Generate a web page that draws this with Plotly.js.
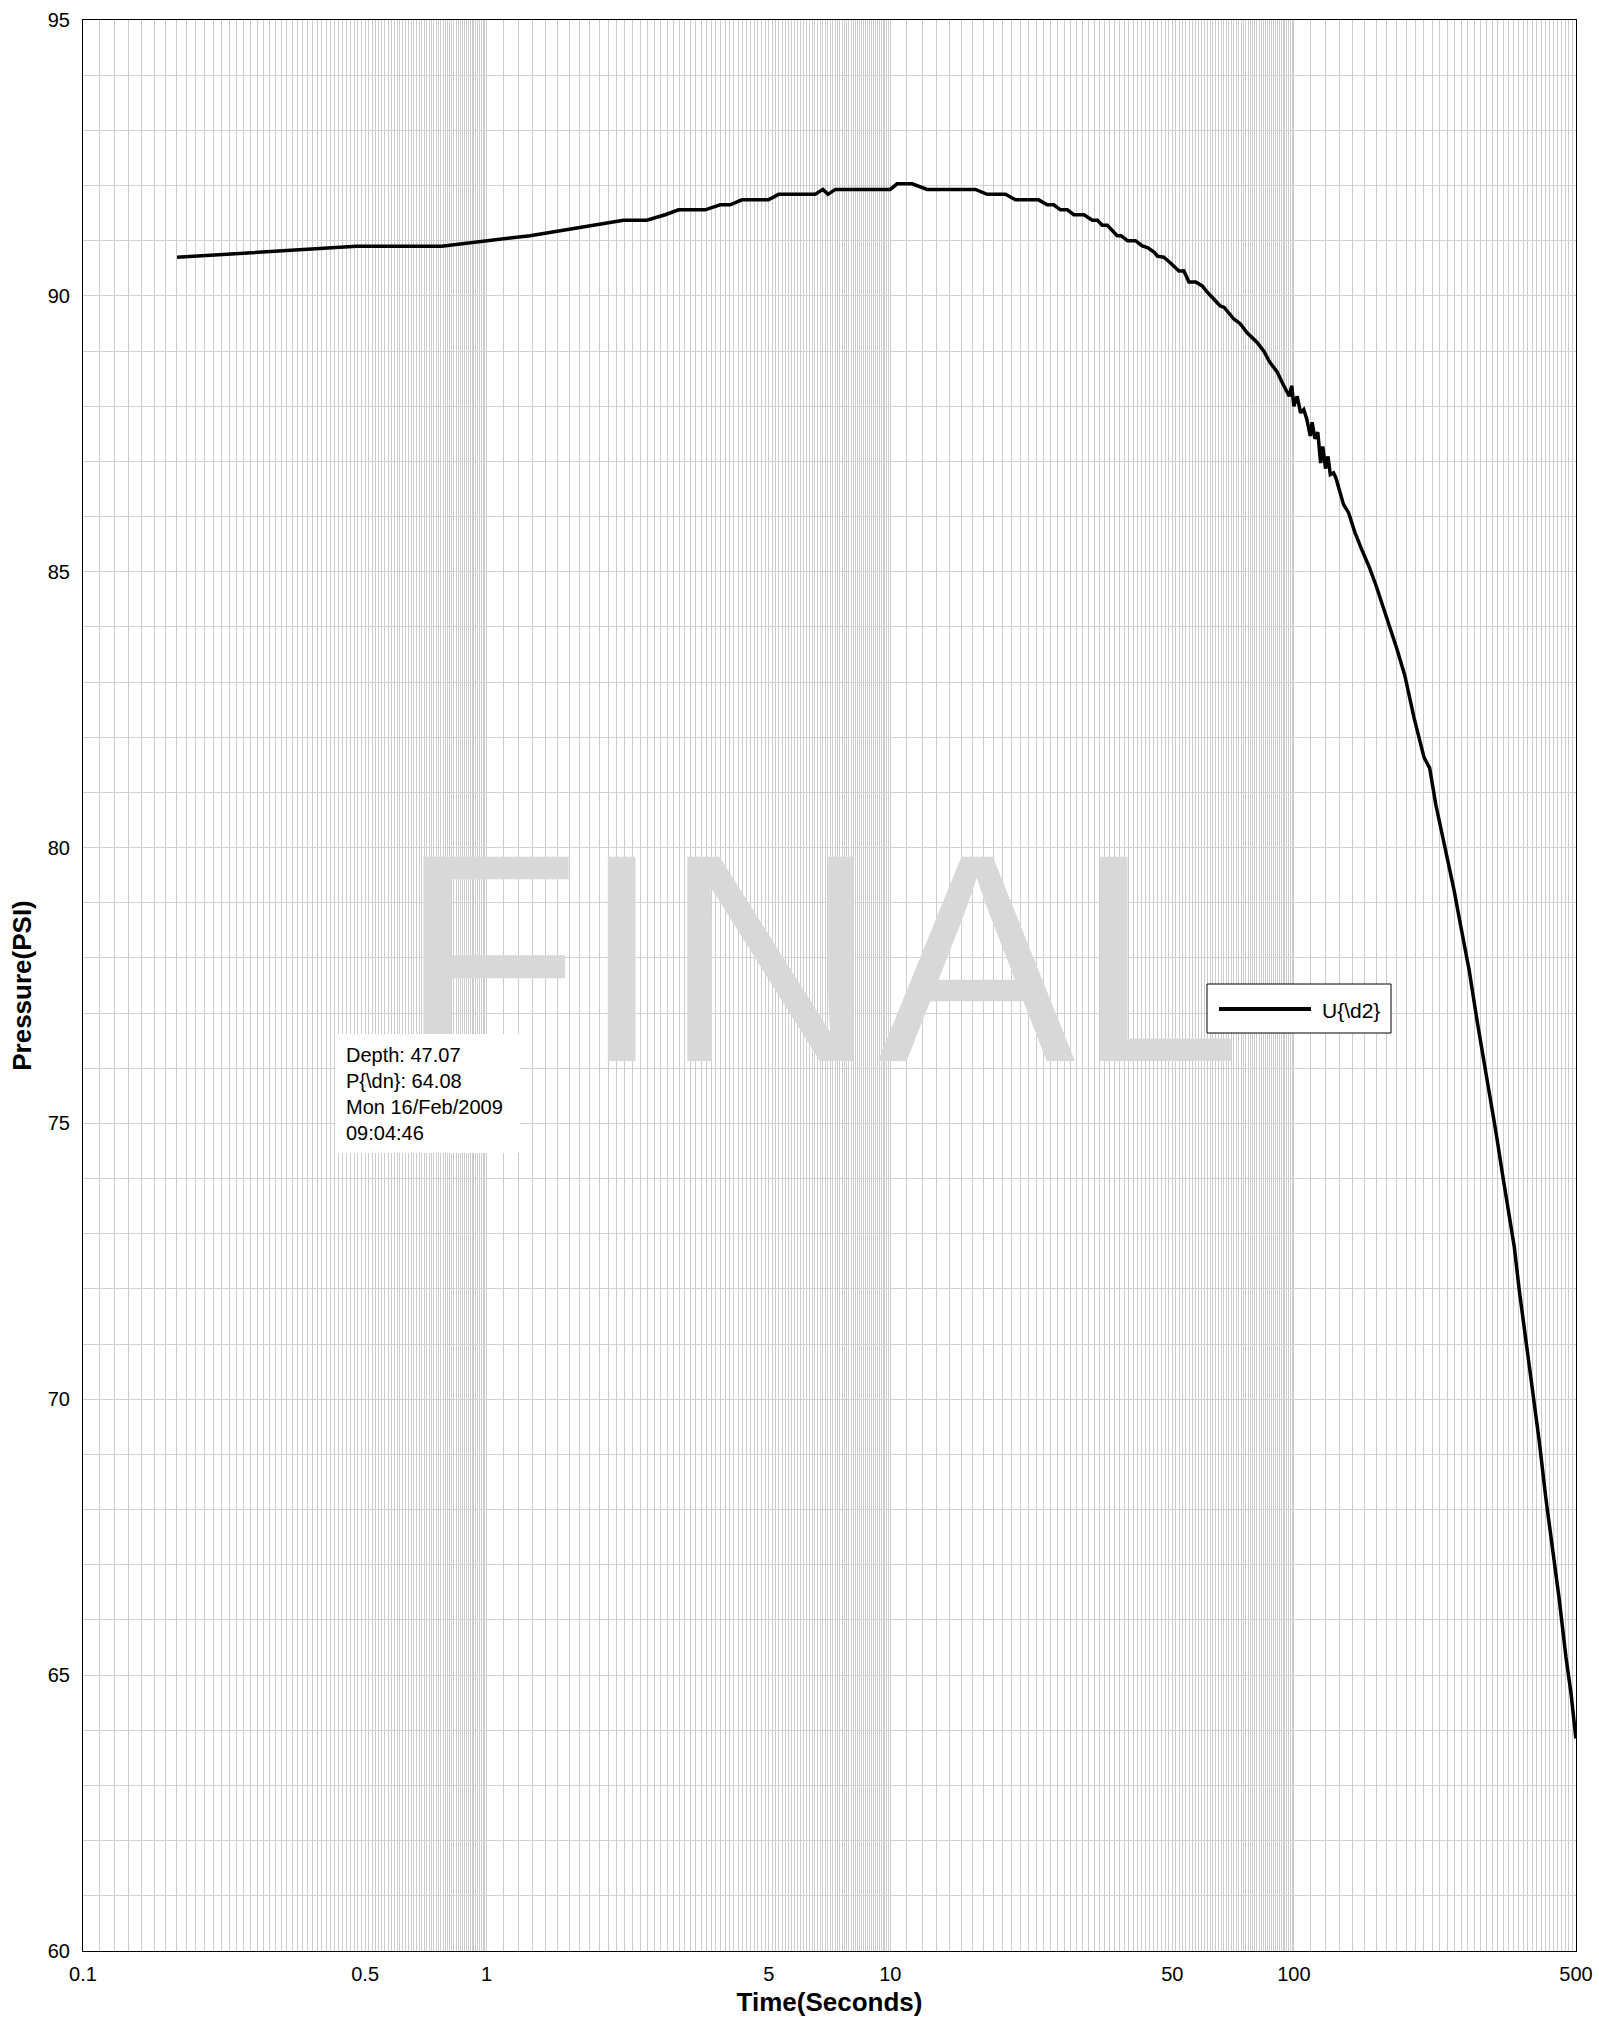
<!DOCTYPE html>
<html>
<head>
<meta charset="utf-8">
<script src="https://cdn.plot.ly/plotly-3.0.1.min.js"></script>
<style>
html,body{margin:0;padding:0;background:#ffffff;}
#chart{width:1599px;height:2022px;}
.js-plotly-plot .plotly path.xgrid, .js-plotly-plot .plotly path.ygrid { shape-rendering: crispEdges !important; }
</style>
</head>
<body>
<div id="chart"></div>
<script>
// ---- data ----
const timeSec = [
  0.171, 0.476, 0.774, 1.281, 2.183, 2.494, 2.77, 2.99, 3.48, 3.79,
  4.01, 4.29, 4.99, 5.29, 6.52, 6.81, 7.01, 7.31, 10.0, 10.4,
  11.33, 12.34, 16.26, 17.38, 19.3, 20.43, 23.3, 24.48, 25.4, 26.4,
  27.45, 28.5, 30.2, 31.66, 32.6, 33.5, 34.5, 36.5, 37.3, 38.7,
  40.5, 42.0, 43.5, 45.1, 45.9, 47.6, 49.4, 51.9, 53.4, 54.95,
  57.1, 59.3, 61.0, 63.4, 65.6, 67.2, 71.0, 73.5, 76.6, 81.2,
  84.4, 87.1, 90.9, 93.8, 96.6, 97.4, 98.8, 100.0, 101.9, 103.9,
  105.8, 107.7, 109.8, 111.0, 112.7, 114.6, 116.5, 117.9, 119.8, 121.5,
  123.1, 125.4, 127.1, 132.7, 136.6, 141.7, 147.3, 153.4, 159.8, 166.3,
  173.3, 180.0, 188.3, 198.5, 210.2, 217.0, 224.7, 237.9, 249.5, 259.2,
  271.8, 285.1, 301.8, 316.6, 328.9, 341.6, 351.5, 361.7, 375.7, 390.3,
  405.3, 421.1, 437.5, 454.3, 472.1, 485.8, 499.7
];
const pressurePsi = [
  90.70, 90.90, 90.90, 91.09, 91.37, 91.37, 91.47, 91.56, 91.56, 91.65,
  91.65, 91.74, 91.74, 91.84, 91.84, 91.93, 91.84, 91.93, 91.93, 92.03,
  92.03, 91.93, 91.93, 91.84, 91.84, 91.74, 91.74, 91.65, 91.65, 91.56,
  91.56, 91.47, 91.47, 91.37, 91.37, 91.28, 91.28, 91.09, 91.09, 91.00,
  91.00, 90.91, 90.87, 90.79, 90.72, 90.70, 90.60, 90.45, 90.45, 90.25,
  90.25, 90.18, 90.07, 89.93, 89.82, 89.79, 89.58, 89.50, 89.33, 89.15,
  88.99, 88.80, 88.62, 88.41, 88.24, 88.18, 88.37, 88.00, 88.18, 87.88,
  87.94, 87.76, 87.46, 87.71, 87.41, 87.53, 86.97, 87.27, 86.87, 87.09,
  86.76, 86.79, 86.70, 86.22, 86.07, 85.71, 85.40, 85.10, 84.75, 84.38,
  83.99, 83.60, 83.12, 82.35, 81.63, 81.44, 80.78, 79.94, 79.22, 78.57,
  77.78, 76.81, 75.76, 74.85, 74.07, 73.29, 72.77, 71.98, 71.07, 70.16,
  69.25, 68.20, 67.29, 66.38, 65.33, 64.68, 63.85
];
const seriesName = 'U{\\d2}';
const xLabelValues = [0.1, 0.5, 1, 5, 10, 50, 100, 500];
const yLabelValues = [60, 65, 70, 75, 80, 85, 90, 95];
const infoLines = ['Depth: 47.07', 'P{\\dn}: 64.08', 'Mon 16/Feb/2009', '09:04:46'];
const watermarkText = 'FINAL';
const xTitle = 'Time(Seconds)';
const yTitle = 'Pressure(PSI)';

// ---- grid ticks (axis furniture) ----
const FONT = 'Liberation Sans, Arial, Helvetica, sans-serif';
const xGridVals = [], xGridText = [];
[0.1, 1, 10, 100].forEach(function (d) {
  for (let k = 10; k <= 99; k++) {
    const v = parseFloat((d * k / 10).toPrecision(8));
    if (v > 500.0001) continue;
    xGridVals.push(v);
    const lab = xLabelValues.find(function (L) { return Math.abs(L - v) < 1e-9 * Math.max(1, v); });
    xGridText.push(lab !== undefined ? String(lab) : '');
  }
});
const yGridVals = [], yGridText = [];
for (let p = 60; p <= 95; p++) {
  yGridVals.push(p);
  yGridText.push(yLabelValues.indexOf(p) >= 0 ? String(p) : '');
}

// plot area in pixels
const L = 83, R = 23, T = 20, B = 71, W = 1599, H = 2022;
const PW = W - L - R, PH = H - T - B;
function px(x) { return (x - L) / PW; }
function py(y) { return (H - B - y) / PH; }

const trace = {
  x: timeSec,
  y: pressurePsi,
  type: 'scatter',
  mode: 'lines',
  name: seriesName,
  line: { color: '#000000', width: 3.5 },
  showlegend: false,
  hoverinfo: 'x+y'
};

const annotations = [];
// watermark
annotations.push({
  xref: 'paper', yref: 'paper', x: px(820), y: py(958),
  xanchor: 'center', yanchor: 'middle', showarrow: false,
  text: watermarkText,
  font: { family: FONT, size: 297, color: '#d8d8d8' }
});
// info box (white, no border) with four lines
annotations.push({
  xref: 'paper', yref: 'paper', x: px(427.5), y: py(1093.5),
  xanchor: 'center', yanchor: 'middle', showarrow: false,
  text: infoLines.join('<br>'), align: 'left', valign: 'middle',
  width: 163, height: 97, bgcolor: '#ffffff',
  borderpad: 11, borderwidth: 0,
  font: { family: FONT, size: 20, color: '#000000' }
});
// legend text
annotations.push({
  xref: 'paper', yref: 'paper', x: px(1321), y: py(1010.5),
  xanchor: 'left', yanchor: 'middle', showarrow: false, borderpad: 0,
  text: seriesName,
  font: { family: FONT, size: 21, color: '#000000' }
});

const shapes = [
  { type: 'rect', xref: 'paper', yref: 'paper', layer: 'above',
    x0: px(1207), x1: px(1391), y0: py(1033), y1: py(984),
    fillcolor: '#ffffff', line: { color: '#000000', width: 1 } },
  { type: 'line', xref: 'paper', yref: 'paper', layer: 'above',
    x0: px(1219), x1: px(1311), y0: py(1009), y1: py(1009),
    line: { color: '#000000', width: 4 } }
];

const layout = {
  width: W, height: H,
  margin: { l: L, r: R, t: T, b: B, pad: 0 },
  paper_bgcolor: '#ffffff',
  plot_bgcolor: '#ffffff',
  showlegend: false,
  font: { family: FONT, size: 20, color: '#000000' },
  xaxis: {
    type: 'log',
    range: [Math.log10(0.1), Math.log10(500)],
    tickmode: 'array', tickvals: xGridVals, ticktext: xGridText,
    ticks: '', showgrid: true, gridcolor: '#cccccc', gridwidth: 1,
    showline: true, mirror: true, linecolor: '#000000', linewidth: 1,
    zeroline: false, automargin: false,
    ticklabelstandoff: 5,
    tickfont: { family: FONT, size: 20, color: '#000000' },
    title: { text: xTitle, standoff: 8,
             font: { family: FONT, size: 26, color: '#000000', weight: 'bold' } }
  },
  yaxis: {
    range: [60, 95],
    tickmode: 'array', tickvals: yGridVals, ticktext: yGridText,
    ticks: '', showgrid: true, gridcolor: '#d2d2d2', gridwidth: 1,
    showline: true, mirror: true, linecolor: '#000000', linewidth: 1,
    zeroline: false, automargin: false,
    ticklabelstandoff: 8,
    tickfont: { family: FONT, size: 20, color: '#000000' },
    title: { text: yTitle, standoff: 8,
             font: { family: FONT, size: 26, color: '#000000', weight: 'bold' } }
  },
  annotations: annotations,
  shapes: shapes
};

Plotly.newPlot('chart', [trace], layout, { staticPlot: true, displayModeBar: false });
</script>
</body>
</html>
